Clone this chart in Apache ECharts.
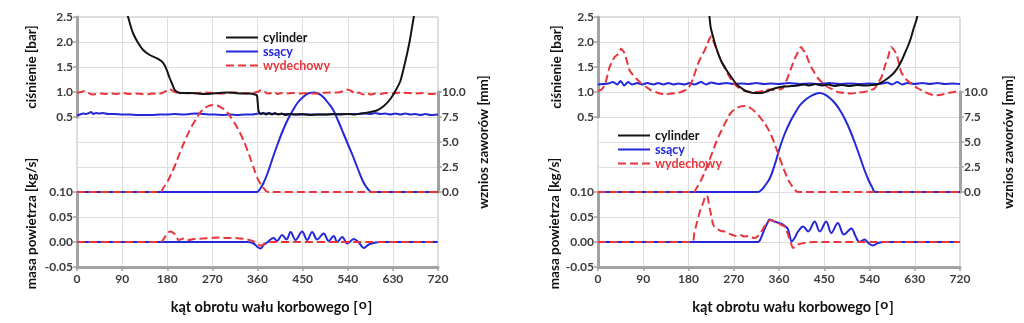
<!DOCTYPE html>
<html>
<head>
<meta charset="utf-8">
<script src="https://cdn.jsdelivr.net/npm/echarts@6/dist/echarts.min.js"></script>
<style>
  html, body { margin: 0; padding: 0; background: #ffffff; }
  #chart { width: 1024px; height: 323px; }
</style>
</head>
<body>
<div id="chart"></div>
<script>
// Crank angle [deg] vs value pairs for each trace.
// Panel A (left): pressures [bar]
const A_cylP = [[97,2.7],[102,2.5],[107,2.32],[112,2.17],[122,1.98],[132,1.84],[145,1.74],[160,1.67],[168,1.62],[174,1.55],[179,1.44],[184,1.3],[189,1.18],[195,1.04],[202,0.99],[209,0.98],[225,0.98],[240,0.97],[255,0.96],[270,0.97],[285,0.98],[300,0.99],[315,0.98],[330,0.97],[345,0.97],[355,0.95],[359,0.93],[362,0.62],[366,0.56],[371,0.58],[377,0.55],[383,0.58],[389,0.55],[395,0.58],[401,0.55],[408,0.57],[416,0.54],[425,0.56],[435,0.55],[450,0.56],[465,0.54],[480,0.55],[495,0.55],[510,0.56],[525,0.55],[540,0.56],[555,0.55],[565,0.57],[575,0.58],[586,0.6],[598,0.63],[612,0.72],[625,0.86],[635,1.02],[645,1.22],[651,1.45],[658,1.75],[664,2.04],[668,2.28],[672,2.52],[676,2.75]];
const A_inP = [[0,0.53],[6,0.55],[12,0.57],[18,0.56],[24,0.58],[28,0.6],[32,0.56],[38,0.58],[44,0.57],[52,0.58],[62,0.56],[75,0.56],[90,0.55],[105,0.55],[120,0.54],[135,0.54],[150,0.54],[165,0.55],[180,0.55],[195,0.56],[210,0.55],[225,0.56],[240,0.57],[250,0.56],[262,0.55],[275,0.55],[290,0.54],[305,0.55],[320,0.54],[335,0.55],[350,0.55],[362,0.57],[380,0.57],[400,0.56],[420,0.56],[440,0.55],[460,0.55],[480,0.55],[500,0.55],[520,0.56],[540,0.56],[560,0.56],[575,0.57],[585,0.56],[595,0.58],[605,0.56],[615,0.57],[625,0.55],[635,0.57],[645,0.55],[655,0.57],[665,0.55],[675,0.56],[685,0.54],[695,0.56],[705,0.54],[720,0.55]];
const A_exP = [[0,0.98],[8,1.0],[15,1.02],[22,0.99],[30,0.95],[38,0.96],[48,0.97],[58,0.96],[68,0.97],[80,0.96],[92,0.98],[104,0.96],[116,0.97],[128,0.96],[140,0.95],[150,0.97],[160,0.96],[170,0.98],[178,1.02],[185,1.06],[190,1.03],[198,0.99],[210,0.98],[225,0.97],[240,0.98],[255,0.99],[270,0.98],[285,0.97],[300,0.98],[315,0.99],[330,0.98],[345,0.97],[355,0.99],[362,1.01],[368,1.04],[374,1.01],[380,0.97],[387,0.98],[393,1.0],[400,0.96],[408,0.98],[418,0.97],[430,0.98],[445,0.97],[460,0.98],[475,0.97],[490,0.98],[505,0.99],[520,0.99],[532,1.02],[540,1.05],[547,1.02],[555,0.97],[562,0.99],[570,0.95],[578,0.98],[586,0.95],[595,0.97],[605,0.96],[615,0.98],[630,0.97],[645,0.99],[660,0.98],[675,0.97],[690,0.98],[705,0.96],[720,0.97]];
// Panel A: valve lift [mm]
const A_inLift = [[0,0],[359,0],[365,0.3],[372,0.9],[381,2.0],[391,3.5],[401,4.9],[411,6.2],[421,7.3],[431,8.2],[441,9.0],[451,9.5],[461,9.85],[471,9.95],[481,9.85],[491,9.5],[501,8.9],[511,8.2],[521,7.1],[531,5.9],[541,4.7],[551,3.5],[561,2.2],[571,1.0],[580,0.3],[588,0],[720,0]];
const A_exLift = [[0,0],[166,0],[172,0.4],[179,0.9],[185,1.5],[195,2.6],[205,3.9],[215,5.1],[225,6.2],[235,7.1],[245,7.9],[258,8.5],[272,8.7],[286,8.5],[299,8.0],[309,7.3],[319,6.5],[329,5.5],[339,4.3],[349,2.9],[359,1.5],[366,0.8],[372,0.4],[381,0],[720,0]];
// Panel A: air mass flow [kg/s]
const A_inMass = [[0,0],[340,0],[352,-0.003],[360,-0.01],[366,-0.013],[372,-0.006],[379,-0.001],[386,0.005],[392,0.008],[399,0.002],[409,0.014],[418,0.005],[426,0.02],[436,0.004],[449,0.021],[459,0.004],[469,0.02],[479,0.005],[492,0.017],[502,0.002],[512,0.012],[519,0.0],[529,0.01],[539,-0.003],[552,0.006],[562,-0.001],[572,-0.012],[582,-0.005],[592,-0.002],[605,0],[720,0]];
const A_exMass = [[0,0],[166,0],[176,0.011],[186,0.021],[196,0.015],[203,0.004],[213,0.007],[223,0.004],[233,0.006],[250,0.007],[266,0.008],[283,0.009],[299,0.008],[314,0.008],[326,0.007],[340,0.005],[350,0.002],[359,-0.003],[366,-0.007],[373,-0.004],[380,0],[720,0]];

// Panel B (right): pressures [bar]
const B_cylP = [[220,2.7],[224,2.3],[229,2.1],[234,1.92],[239,1.77],[245,1.62],[252,1.5],[258,1.4],[265,1.3],[272,1.2],[278,1.13],[285,1.08],[292,1.03],[300,1.0],[310,0.98],[325,0.98],[335,1.01],[345,1.05],[358,1.09],[371,1.11],[385,1.12],[398,1.13],[410,1.15],[420,1.13],[432,1.16],[445,1.13],[458,1.15],[470,1.12],[485,1.14],[500,1.12],[515,1.14],[530,1.13],[545,1.14],[554,1.15],[562,1.18],[570,1.23],[577,1.28],[583,1.33],[590,1.4],[597,1.5],[604,1.63],[610,1.77],[617,1.93],[623,2.1],[628,2.28],[633,2.43],[637,2.6]];
const B_inP = [[0,1.15],[10,1.16],[20,1.17],[30,1.2],[38,1.15],[45,1.22],[52,1.13],[60,1.2],[68,1.15],[78,1.18],[88,1.15],[98,1.18],[110,1.15],[120,1.18],[130,1.15],[140,1.18],[150,1.15],[160,1.17],[172,1.15],[182,1.18],[192,1.15],[205,1.2],[215,1.15],[225,1.19],[240,1.16],[255,1.18],[270,1.16],[285,1.17],[300,1.16],[315,1.18],[330,1.16],[345,1.17],[360,1.16],[380,1.18],[400,1.16],[420,1.17],[440,1.16],[460,1.18],[480,1.16],[500,1.17],[520,1.16],[540,1.17],[560,1.16],[575,1.19],[585,1.15],[595,1.2],[605,1.15],[615,1.18],[630,1.16],[645,1.18],[660,1.16],[675,1.18],[690,1.16],[705,1.17],[720,1.16]];
const B_exP = [[0,1.02],[7,1.05],[13,1.13],[18,1.3],[23,1.5],[28,1.6],[33,1.7],[38,1.74],[43,1.8],[46,1.87],[50,1.82],[53,1.77],[58,1.6],[63,1.43],[68,1.36],[73,1.3],[80,1.23],[86,1.17],[96,1.1],[106,1.03],[120,0.98],[133,0.95],[146,0.97],[159,0.98],[170,1.02],[179,1.07],[184,1.15],[189,1.27],[194,1.42],[199,1.57],[205,1.7],[212,1.83],[217,1.95],[222,2.07],[226,2.12],[229,2.03],[234,1.9],[239,1.77],[245,1.62],[252,1.48],[260,1.33],[268,1.2],[278,1.1],[290,1.03],[305,1.0],[318,1.0],[330,1.03],[340,1.05],[350,1.04],[360,1.05],[368,1.08],[375,1.23],[385,1.5],[392,1.68],[398,1.8],[404,1.9],[408,1.84],[413,1.78],[418,1.64],[424,1.5],[431,1.38],[438,1.27],[447,1.18],[457,1.1],[467,1.05],[477,1.0],[490,0.98],[504,0.97],[517,0.99],[530,1.0],[540,1.03],[550,1.07],[557,1.18],[564,1.3],[570,1.5],[577,1.7],[583,1.9],[588,1.85],[593,1.77],[598,1.6],[603,1.4],[612,1.26],[623,1.17],[635,1.08],[650,1.0],[660,0.96],[670,0.93],[685,0.95],[696,0.98],[708,1.0],[720,1.03]];
// Panel B: valve lift [mm]
const B_inLift = [[0,0],[318,0],[325,0.2],[333,0.7],[342,1.4],[352,2.8],[362,4.5],[372,5.9],[382,7.0],[392,7.9],[402,8.7],[412,9.2],[422,9.55],[432,9.8],[441,9.9],[451,9.75],[461,9.4],[471,8.9],[481,8.2],[491,7.3],[501,6.2],[511,4.9],[521,3.5],[530,2.2],[538,1.2],[545,0.5],[552,0],[720,0]];
const B_exLift = [[0,0],[190,0],[196,0.4],[202,0.9],[208,1.5],[217,2.6],[227,3.9],[236,5.1],[246,6.2],[255,7.1],[264,7.9],[276,8.4],[290,8.6],[303,8.4],[315,7.9],[325,7.3],[335,6.6],[345,5.6],[355,4.3],[365,2.9],[375,1.6],[382,0.9],[389,0.4],[398,0],[720,0]];
// Panel B: air mass flow [kg/s]
const B_inMass = [[0,0],[318,0],[325,0.01],[332,0.028],[338,0.04],[341,0.045],[346,0.043],[351,0.041],[360,0.038],[368,0.035],[374,0.03],[378,0.025],[382,0.01],[385,0.001],[391,0.008],[398,0.021],[408,0.031],[418,0.021],[431,0.041],[441,0.021],[454,0.041],[464,0.018],[477,0.038],[489,0.015],[504,0.027],[512,0.012],[520,0.0],[530,0.005],[540,-0.004],[547,-0.007],[557,-0.002],[570,0],[720,0]];
const B_exMass = [[0,0],[186,0],[192,0.02],[199,0.048],[204,0.065],[209,0.078],[215,0.093],[218,0.09],[222,0.068],[226,0.05],[229,0.035],[234,0.028],[239,0.025],[245,0.022],[252,0.021],[258,0.018],[265,0.015],[275,0.012],[282,0.014],[292,0.011],[300,0.012],[306,0.009],[312,0.008],[318,0.012],[325,0.021],[332,0.033],[338,0.041],[345,0.044],[352,0.04],[358,0.038],[365,0.034],[371,0.031],[376,0.02],[381,0.006],[385,-0.006],[388,-0.012],[393,-0.008],[398,-0.005],[405,-0.003],[415,-0.001],[430,0],[720,0]];

const legendNames = ['cylinder', 'ssący', 'wydechowy'];
const pressureLabels = [0.5, 1.0, 1.5, 2.0, 2.5];
const liftLabels = [0, 2.5, 5, 7.5, 10];
const massLabels = [-0.05, 0, 0.05, 0.10];

const FONT = 'Lato';
const C_CYL = '#141414';
const C_IN = '#2328d8';
const C_EX = '#e8363c';
const AXIS_GRAY = '#a3a3a3';
const GRID_GRAY = '#dedede';
const LABEL = '#3c3c3c';

function buildPanel(base, pos, d) {
  const gBg = base, gP = base + 1, gV = base + 2, gM = base + 3;
  const lr = { left: pos.left, width: pos.width };
  const grids = [
    Object.assign({ top: 17, height: 250, show: true, borderColor: '#bdbdbd', borderWidth: 1 }, lr),
    Object.assign({ top: 17, height: 100 }, lr),
    Object.assign({ top: 92, height: 100 }, lr),
    Object.assign({ top: 192, height: 75 }, lr)
  ];
  const hiddenX = g => ({ gridIndex: g, type: 'value', min: 0, max: 720, show: false });
  const tick = { show: true, length: 4, lineStyle: { color: AXIS_GRAY, width: 1.5 } };
  const axLine = { show: true, onZero: false, lineStyle: { color: AXIS_GRAY, width: 3 } };
  const lbl = { color: LABEL, fontWeight: 'bold', fontSize: 12, fontFamily: FONT, margin: 4 };
  const nameStyle = { color: '#111', fontWeight: 'bold', fontSize: 13.5, fontFamily: FONT };
  const xAxes = [
    { gridIndex: gBg, type: 'value', min: 0, max: 720, interval: 90,
      axisLine: { show: false }, axisTick: { show: false }, axisLabel: { show: false },
      splitLine: { show: true, lineStyle: { color: GRID_GRAY, width: 1 } } },
    hiddenX(gP), hiddenX(gV),
    { gridIndex: gM, type: 'value', min: 0, max: 720, interval: 90,
      axisLine: axLine, axisTick: tick, splitLine: { show: false },
      axisLabel: Object.assign({}, lbl, { margin: 6 }),
      name: 'kąt obrotu wału korbowego [{d|o}]', nameLocation: 'middle', nameGap: 30,
      nameTextStyle: Object.assign({}, nameStyle, { fontSize: 14.5, padding: [0, 0, 0, pos.xNameShift],
        rich: { d: { fontSize: 14, fontWeight: 'bold', fontFamily: FONT, color: '#111', padding: [0, 1, 6, 1] } } }) }
  ];
  const yAxes = [
    { gridIndex: gBg, type: 'value', min: 0, max: 10, interval: 1,
      axisLine: { show: false }, axisTick: { show: false }, axisLabel: { show: false },
      splitLine: { show: true, lineStyle: { color: GRID_GRAY, width: 1 } } },
    { gridIndex: gP, type: 'value', min: 0.5, max: 2.5, interval: 0.5,
      axisLine: axLine, axisTick: tick, splitLine: { show: false },
      axisLabel: Object.assign({}, lbl, { formatter: v => pressureLabels.some(p => Math.abs(p - v) < 1e-6) ? v.toFixed(1) : '' }),
      name: 'ciśnienie [bar]', nameLocation: 'middle', nameRotate: 90, nameGap: pos.leftNameGap, nameTextStyle: nameStyle },
    { gridIndex: gV, type: 'value', position: 'right', min: 0, max: 10, interval: 2.5,
      axisLine: axLine, axisTick: tick, splitLine: { show: false },
      axisLabel: Object.assign({}, lbl, { formatter: v => liftLabels.some(p => Math.abs(p - v) < 1e-6) ? v.toFixed(1) : '' }),
      name: 'wznios zaworów [mm]', nameLocation: 'middle', nameRotate: 90, nameGap: pos.rightNameGap, nameTextStyle: nameStyle },
    { gridIndex: gM, type: 'value', min: -0.05, max: 0.10, interval: 0.05,
      axisLine: axLine, axisTick: tick, splitLine: { show: false },
      axisLabel: Object.assign({}, lbl, { formatter: v => massLabels.some(p => Math.abs(p - v) < 1e-6) ? v.toFixed(2) : '' }),
      name: 'masa powietrza [kg/s]', nameLocation: 'middle', nameRotate: 90, nameGap: pos.leftNameGap,
      nameTextStyle: Object.assign({}, nameStyle, { padding: [0, 0, 0, 12] }) }
  ];
  const line = (name, color, dashed, g, data, smooth, z) => ({
    type: 'line', name, data, xAxisIndex: g, yAxisIndex: g,
    symbol: 'none', showSymbol: false, smooth, animation: false, z,
    lineStyle: { color, width: 2, type: dashed ? [8, 4] : 'solid' },
    itemStyle: { color }
  });
  const series = [
    line('ssący', C_IN, false, gP, d.inP, 0.2, 2),
    line('wydechowy', C_EX, true, gP, d.exP, 0.2, 3),
    line('cylinder', C_CYL, false, gP, d.cylP, 0.2, 4),
    line('ssący', C_IN, false, gV, d.inLift, 0.4, 2),
    line('wydechowy', C_EX, true, gV, d.exLift, 0.4, 3),
    line('ssący', C_IN, false, gM, d.inMass, 0.35, 2),
    line('wydechowy', C_EX, true, gM, d.exMass, 0.35, 3)
  ];
  // legend keys: line sample only, no marker
  const legendText = color => ({ color, fontSize: 12.5, fontWeight: 'bold', fontFamily: FONT, lineHeight: 12 });
  const legend = {
    left: pos.legendLeft, top: pos.legendTop, orient: 'vertical',
    itemWidth: 32, itemHeight: 12, itemGap: 1, selectedMode: false,
    itemStyle: { opacity: 0 },
    textStyle: legendText('#111'),
    data: [
      { name: legendNames[0], textStyle: legendText(C_CYL) },
      { name: legendNames[1], textStyle: legendText(C_IN) },
      { name: legendNames[2], textStyle: legendText(C_EX) }
    ]
  };
  return { grids, xAxes, yAxes, series, legend };
}

const pA = buildPanel(0, { left: 77, width: 361, legendLeft: 220, legendTop: 26,
  leftNameGap: 38, rightNameGap: 39, xNameShift: 28 },
  { cylP: A_cylP, inP: A_inP, exP: A_exP, inLift: A_inLift, exLift: A_exLift, inMass: A_inMass, exMass: A_exMass });
const pB = buildPanel(4, { left: 598, width: 362, legendLeft: 612, legendTop: 124,
  leftNameGap: 34, rightNameGap: 42, xNameShift: 28 },
  { cylP: B_cylP, inP: B_inP, exP: B_exP, inLift: B_inLift, exLift: B_exLift, inMass: B_inMass, exMass: B_exMass });

const chart = echarts.init(document.getElementById('chart'), null, { renderer: 'canvas' });
chart.setOption({
  backgroundColor: '#ffffff',
  animation: false,
  textStyle: { fontFamily: FONT },
  grid: pA.grids.concat(pB.grids),
  xAxis: pA.xAxes.concat(pB.xAxes),
  yAxis: pA.yAxes.concat(pB.yAxes),
  legend: [pA.legend, pB.legend],
  series: pA.series.concat(pB.series)
});
</script>
</body>
</html>
